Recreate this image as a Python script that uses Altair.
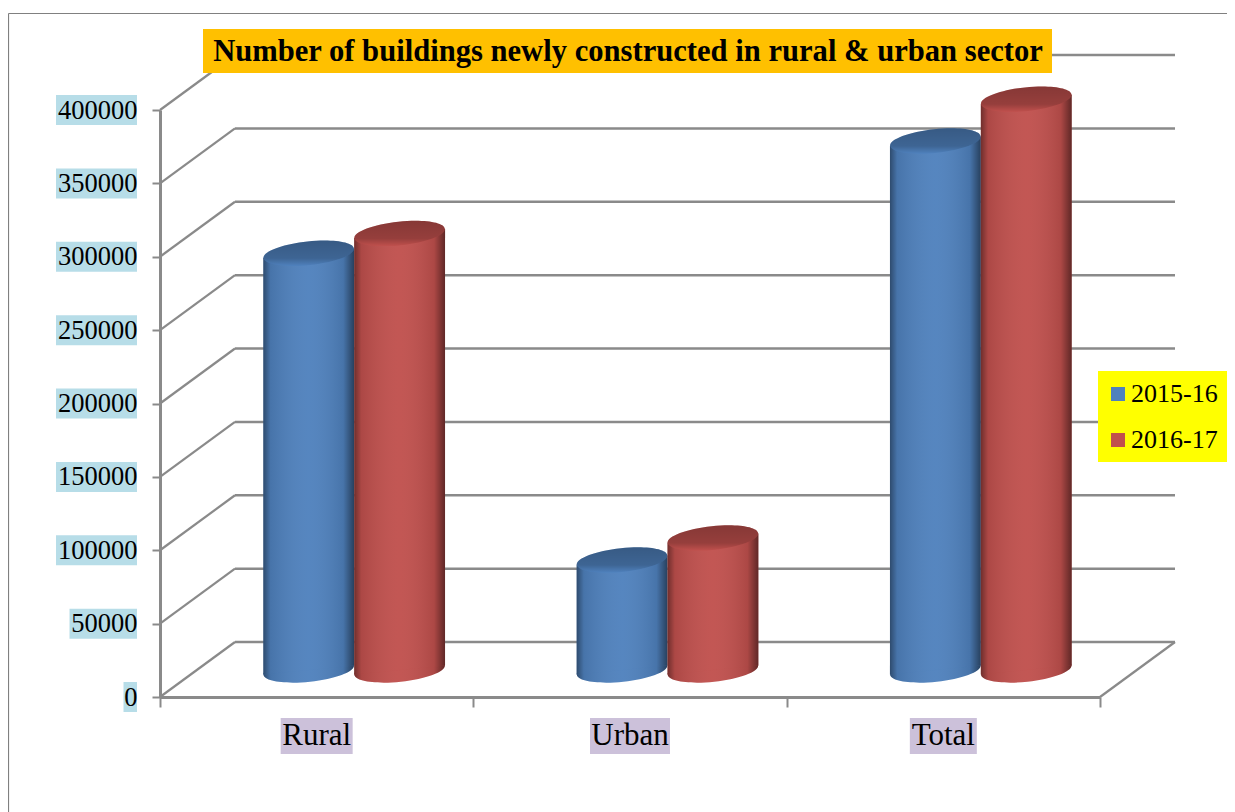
import altair as alt
import pandas as pd

categories = ["Rural", "Urban", "Total"]
series = ["2015-16", "2016-17"]
values_2015 = [284000, 75000, 360500]
values_2016 = [297500, 90000, 389000]
y_ticks = [0, 50000, 100000, 150000, 200000, 250000, 300000, 350000, 400000]
title_text = "Number of buildings newly constructed in rural & urban sector"
colors = ["#4f81bd", "#c0504d"]

FONT = "Liberation Serif"
GRAY = "#8a8a8a"
PW, PH = 940, 587
PX_X = 3 / PW              # x units per pixel
PX_Y = 400000 / PH         # value units per pixel
DX, DY = 75, -55           # chart depth
BX, BY = 37.5, -27         # cylinders stand mid-depth
W = 0.29
TILT = 4.5 * PX_Y
PATH = ("M-0.995,0.105A1,0.26,-6,1,1,0.995,-0.105"
        "A1,0.26,-6,1,1,-0.995,0.105Z")
SIZE = (W / PX_X) ** 2

rows, edges = [], []
for s, vals, off in [(series[0], values_2015, -W / 2), (series[1], values_2016, W / 2)]:
    for i, c in enumerate(categories):
        cx = i + 0.5 + off
        rows.append(dict(cat=c, series=s, value=vals[i], zero=0, cx=cx))
        for side in (-1, 1):
            edges.append(dict(cat=c, series=s, x=cx + side * W / 2,
                              top=vals[i] + side * TILT, bot=side * TILT))
bars = pd.DataFrame(rows)
edge = pd.DataFrame(edges)

X = alt.Scale(domain=[0, 3], nice=False)
Y = alt.Scale(domain=[0, 400000], nice=False)
color = alt.Color("series:N",
                  scale=alt.Scale(domain=series, range=colors),
                  legend=alt.Legend(title=None, orient="none", legendX=935, legendY=261,
                                    symbolType="square", symbolSize=196,
                                    symbolStrokeWidth=0, labelFont=FONT, labelFontSize=26,
                                    labelColor="#000000", padding=10, rowPadding=20,
                                    labelOffset=0, zindex=1))

ticks = pd.DataFrame(dict(tick=y_ticks, zero=0))
floor = pd.DataFrame(dict(tick=[0], xr=[3]))

grid = alt.Chart(ticks).mark_rule(color=GRAY, strokeWidth=2.5, xOffset=DX, x2Offset=DX,
                                  yOffset=DY, y2Offset=DY).encode(
    x=alt.X("zero:Q", scale=X, axis=alt.Axis(values=[0, 1, 2, 3], labels=False, title=None,
                                              domainColor=GRAY, domainWidth=3, tickColor=GRAY,
                                              tickWidth=2, tickSize=10, grid=False, zindex=1)),
    x2=alt.datum(3),
    y=alt.Y("tick:Q", scale=Y, axis=alt.Axis(values=y_ticks, title=None, format="d", grid=False,
                                              domainColor=GRAY, domainWidth=3, tickColor=GRAY,
                                              tickWidth=2, tickSize=8, labelFont=FONT,
                                              labelFontSize=26.5, labelColor="#000000",
                                              labelPadding=15, zindex=1)),
)
diag = alt.Chart(ticks).mark_rule(color=GRAY, strokeWidth=2.2, x2Offset=DX, y2Offset=DY).encode(
    x=alt.X("zero:Q", scale=X), x2="zero:Q", y=alt.Y("tick:Q", scale=Y), y2="tick:Q")
floor_r = alt.Chart(floor).mark_rule(color=GRAY, strokeWidth=2.2, x2Offset=DX, y2Offset=DY).encode(
    x=alt.X("xr:Q", scale=X), x2="xr:Q", y=alt.Y("tick:Q", scale=Y), y2="tick:Q")

# frame of the picture
frame_l = alt.Chart(ticks.head(1)).mark_rule(color="#808080", strokeWidth=1.2).encode(
    x=alt.value(-151.5), y=alt.value(-96.5), y2=alt.value(710))
frame_t = alt.Chart(ticks.head(1)).mark_rule(color="#808080", strokeWidth=1.2).encode(
    x=alt.value(-151.5), x2=alt.value(1075), y=alt.value(-96.5))

# highlight boxes
title_box = alt.Chart(ticks.head(1)).mark_rect(color="#ffc000").encode(
    x=alt.value(43), x2=alt.value(892), y=alt.value(-81), y2=alt.value(-37))
legend_box = alt.Chart(ticks.head(1)).mark_rect(color="#ffff00").encode(
    x=alt.value(938), x2=alt.value(1069), y=alt.value(261), y2=alt.value(352))

ylab = ticks.assign(n=ticks.tick.astype(str).str.len())
ylab["r"] = -23 * PX_X
ylab["l"] = -(23 + ylab.n * 13.5) * PX_X
ybox = alt.Chart(ylab).mark_rect(color="#b7dde8", height=30).encode(
    x=alt.X("l:Q", scale=X), x2="r:Q", y=alt.Y("tick:Q", scale=Y))

xlab = pd.DataFrame(dict(cat=categories, pos=[0.5, 1.5, 2.5]))
xlab["n"] = [72, 80, 67]
xlab["l"] = xlab.pos - xlab.n / 2 * PX_X
xlab["r"] = xlab.pos + xlab.n / 2 * PX_X
xbox = alt.Chart(xlab).mark_rect(color="#ccc1da", height=36, yOffset=39).encode(
    x=alt.X("l:Q", scale=X), x2="r:Q", y=alt.datum(0, scale=Y))
xtext = alt.Chart(xlab).mark_text(font=FONT, fontSize=31, color="#000000", yOffset=39,
                                  baseline="middle").encode(
    x=alt.X("pos:Q", scale=X), y=alt.datum(0, scale=Y), text="cat:N")

shade = alt.Gradient(gradient="linear", x1=0, x2=1, y1=0, y2=0, stops=[
    alt.GradientStop(color="rgba(0,0,0,0.42)", offset=0),
    alt.GradientStop(color="rgba(0,0,0,0.10)", offset=0.08),
    alt.GradientStop(color="rgba(255,255,255,0.04)", offset=0.5),
    alt.GradientStop(color="rgba(0,0,0,0.10)", offset=0.88),
    alt.GradientStop(color="rgba(0,0,0,0.50)", offset=1),
])
cap = alt.Gradient(gradient="linear", x1=0, x2=0, y1=0, y2=1, stops=[
    alt.GradientStop(color="rgba(0,0,0,0.30)", offset=0),
    alt.GradientStop(color="rgba(0,0,0,0.22)", offset=0.7),
    alt.GradientStop(color="rgba(0,0,0,0.0)", offset=1),
])


def cylinder(s):
    b = bars[bars.series == s]
    e = edge[edge.series == s]
    pt = dict(filled=True, shape=PATH, size=SIZE, strokeWidth=0, opacity=1,
              xOffset=BX, yOffset=BY)
    area = dict(xOffset=BX, x2Offset=BX, yOffset=BY, y2Offset=BY)
    base = alt.Chart(b).mark_point(**pt).encode(
        x=alt.X("cx:Q", scale=X), y=alt.Y("zero:Q", scale=Y), color=color)
    base_s = alt.Chart(b).mark_point(**{**pt, "fill": shade}).encode(
        x=alt.X("cx:Q", scale=X), y=alt.Y("zero:Q", scale=Y))
    body = alt.Chart(e).mark_area(**area).encode(
        x=alt.X("x:Q", scale=X), y=alt.Y("top:Q", scale=Y), y2="bot:Q",
        detail="cat:N", color=color)
    body_s = alt.Chart(e).mark_area(fill=shade, **area).encode(
        x=alt.X("x:Q", scale=X), y=alt.Y("top:Q", scale=Y), y2="bot:Q", detail="cat:N")
    top = alt.Chart(b).mark_point(**pt).encode(
        x=alt.X("cx:Q", scale=X), y=alt.Y("value:Q", scale=Y), color=color)
    top_s = alt.Chart(b).mark_point(**{**pt, "fill": cap}).encode(
        x=alt.X("cx:Q", scale=X), y=alt.Y("value:Q", scale=Y))
    return [base, base_s, body, body_s, top, top_s]


layers = [frame_l, frame_t, grid, diag, floor_r, title_box, legend_box, ybox, xbox, xtext]
for s in series:
    layers += cylinder(s)

chart = alt.layer(*layers).properties(
    width=PW, height=PH,
    title=alt.TitleParams(title_text, font=FONT, fontSize=30.6, fontWeight="bold", color="#000000",
                          anchor="middle", frame="group", orient="top", offset=0, dy=55, dx=-2,
                          zindex=1),
    padding={"left": 152, "top": 102, "right": 127, "bottom": 115},
    autosize=alt.AutoSizeParams(type="none"),
).configure_view(stroke=None)

chart.save("out.html", embed_options={"renderer": "svg", "actions": False})
